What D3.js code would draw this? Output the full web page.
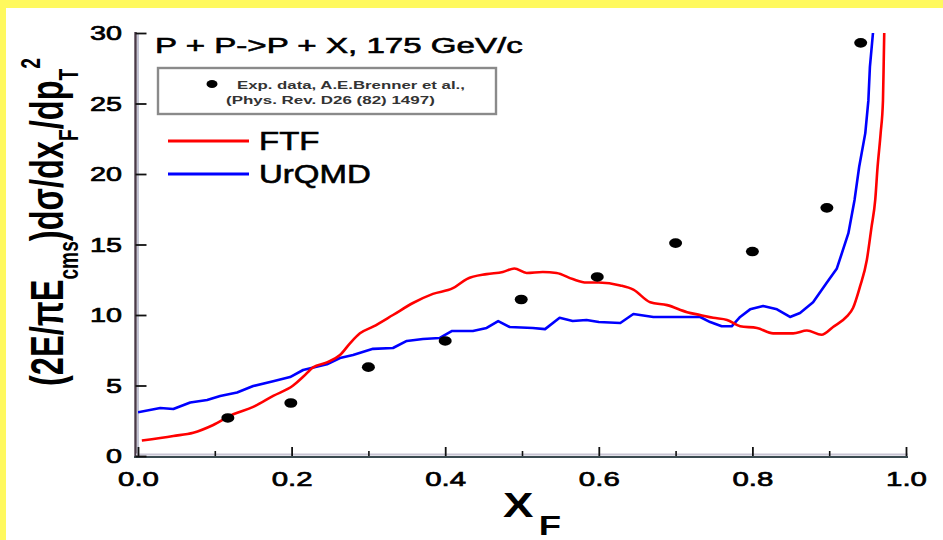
<!DOCTYPE html>
<html>
<head>
<meta charset="utf-8">
<script src="https://cdn.jsdelivr.net/npm/d3@7"></script>
<style>
  html, body { margin: 0; padding: 0; background: #fff; }
  svg { display: block; }
  text { font-family: "Liberation Sans", Arial, sans-serif; }
</style>
</head>
<body>
<svg id="chart" width="943" height="540"></svg>
<script>
// Experimental points (A.E. Brenner et al.)
const expX = [0.117, 0.199, 0.30, 0.40, 0.499, 0.598, 0.70, 0.80, 0.897, 0.941];
const expY = [2.7, 3.76, 6.3, 8.16, 11.1, 12.7, 15.1, 14.5, 17.6, 29.3];

// FTF model curve
const ftfX = [0.005, 0.046, 0.072, 0.098, 0.124, 0.15, 0.176, 0.202, 0.215, 0.228, 0.246, 0.263,
  0.276, 0.289, 0.306, 0.332, 0.358, 0.384, 0.41, 0.428, 0.454, 0.475, 0.49, 0.506, 0.527, 0.545,
  0.566, 0.584, 0.60, 0.628, 0.645, 0.667, 0.689, 0.715, 0.732, 0.749, 0.767, 0.784, 0.806, 0.827,
  0.853, 0.871, 0.89, 0.905, 0.923, 0.931, 0.94, 0.949, 0.955, 0.96, 0.963, 0.967, 0.97, 0.971, 0.972];
const ftfY = [1.1, 1.42, 1.65, 2.2, 2.96, 3.48, 4.26, 5.0, 5.62, 6.29, 6.64, 7.16,
  7.99, 8.7, 9.17, 10.0, 10.85, 11.5, 11.9, 12.55, 12.9, 13.05, 13.3, 12.98, 13.05, 12.98,
  12.55, 12.3, 12.3, 12.1, 11.8, 10.9, 10.7, 10.2, 10.0, 9.8, 9.65, 9.2, 9.08, 8.7,
  8.7, 8.9, 8.6, 9.15, 9.9, 10.5, 12.0, 13.9, 16.2, 18.2, 20.5, 22.9, 25.2, 28.0, 31.0];

// UrQMD model curve
const urqX = [0.0, 0.029, 0.046, 0.068, 0.09, 0.107, 0.129, 0.15, 0.176, 0.198, 0.215, 0.246,
  0.263, 0.28, 0.306, 0.332, 0.35, 0.371, 0.393, 0.409, 0.436, 0.454, 0.469, 0.484, 0.514, 0.53,
  0.549, 0.566, 0.584, 0.60, 0.628, 0.645, 0.671, 0.702, 0.732, 0.745, 0.76, 0.773, 0.784, 0.797,
  0.814, 0.832, 0.849, 0.862, 0.879, 0.897, 0.91, 0.925, 0.933, 0.939, 0.947, 0.951, 0.953, 0.957, 0.959];
const urqY = [3.1, 3.4, 3.33, 3.8, 3.97, 4.26, 4.5, 4.96, 5.3, 5.6, 6.1, 6.5,
  6.95, 7.16, 7.6, 7.66, 8.16, 8.3, 8.37, 8.87, 8.87, 9.08, 9.57, 9.15, 9.08, 9.0,
  9.8, 9.57, 9.65, 9.5, 9.43, 10.07, 9.86, 9.86, 9.86, 9.5, 9.2, 9.2, 9.86, 10.4,
  10.64, 10.4, 9.86, 10.14, 10.9, 12.3, 13.3, 15.8, 18.16, 20.5, 22.9, 25.2, 27.6, 30.0, 32.0];

const xTicks = [0.0, 0.2, 0.4, 0.6, 0.8, 1.0];
const xMinorTicks = [0.1, 0.3, 0.5, 0.7, 0.9];
const yTicks = [0, 5, 10, 15, 20, 25, 30];

const titleText = "P + P->P + X, 175 GeV/c";
const refLine1 = "Exp. data, A.E.Brenner et al.,";
const refLine2 = "(Phys. Rev. D26 (82) 1497)";
const seriesNames = ["FTF", "UrQMD"];

const FONT = '"Liberation Sans", Arial, sans-serif';
const svg = d3.select("#chart");

// Page background with the yellow frame on top and left
svg.append("rect").attr("width", 943).attr("height", 540).attr("fill", "#ffffff");
svg.append("rect").attr("x", 0).attr("y", 0).attr("width", 943).attr("height", 8).attr("fill", "#fff95e");
svg.append("rect").attr("x", 0).attr("y", 0).attr("width", 6).attr("height", 540).attr("fill", "#fff95e");

const x = d3.scaleLinear().domain([0, 1]).range([138, 906]);
const y = d3.scaleLinear().domain([0, 30]).range([456, 33]);

// Regular-weight text gets a thin outline so it reads a little heavier
function heavy(t, w) {
  return t.attr("stroke", "#000").attr("stroke-width", w || 0.5).attr("paint-order", "stroke");
}
// Text placed at an anchor and stretched horizontally
function stretched(px, py, sx, anchor) {
  const g = svg.append("g").attr("transform", `translate(${px},${py}) scale(${sx},1)`);
  return g.append("text").attr("x", 0).attr("y", 0).attr("text-anchor", anchor || "start");
}
// Text fitted to a target width
function fitted(px, py, width, str, size, weight) {
  const g = svg.append("g");
  const t = g.append("text").attr("x", 0).attr("y", 0)
    .attr("font-size", size).attr("font-weight", weight || "normal").attr("fill", "#000").text(str);
  const w = t.node().getComputedTextLength();
  g.attr("transform", `translate(${px},${py}) scale(${width / w},1)`);
  return t;
}

// Axis lines
svg.append("line").attr("x1", 138).attr("x2", 138).attr("y1", 33).attr("y2", 456)
  .attr("stroke", "#c4c4d4").attr("stroke-width", 2);
svg.append("line").attr("x1", 135.5).attr("x2", 135.5).attr("y1", 32).attr("y2", 458)
  .attr("stroke", "#4a3a48").attr("stroke-width", 2.4);
svg.append("line").attr("x1", 136).attr("x2", 908).attr("y1", 454.5).attr("y2", 454.5)
  .attr("stroke", "#c8c4d4").attr("stroke-width", 2);
svg.append("line").attr("x1", 134).attr("x2", 908).attr("y1", 457).attr("y2", 457)
  .attr("stroke", "#3a4a50").attr("stroke-width", 2);

// Y axis ticks (pointing into the plot) and labels
const yAxis = svg.append("g").attr("transform", "translate(135.5,0)")
  .call(d3.axisLeft(y).tickValues(yTicks).tickSizeInner(-11).tickSizeOuter(0).tickFormat(d3.format("d")));
yAxis.select(".domain").remove();
yAxis.selectAll(".tick line").attr("stroke", "#111").attr("stroke-width", 1.8);
heavy(yAxis.selectAll(".tick text")
  .attr("x", null).attr("dy", null)
  .attr("transform", "translate(-13.5,6.5) scale(1.37,1)")
  .attr("font-family", FONT).attr("font-size", 21).attr("fill", "#000").attr("text-anchor", "end"), 0.7);

// X axis ticks and labels
const xAxis = svg.append("g").attr("transform", "translate(0,456)")
  .call(d3.axisBottom(x).tickValues(xTicks).tickSizeInner(-9).tickSizeOuter(0).tickFormat(d3.format(".1f")));
xAxis.select(".domain").remove();
xAxis.selectAll(".tick line").attr("stroke", "#111").attr("stroke-width", 1.8);
heavy(xAxis.selectAll(".tick text")
  .attr("y", null).attr("dy", null)
  .attr("transform", "translate(0,29.5) scale(1.4,1)")
  .attr("font-family", FONT).attr("font-size", 21).attr("fill", "#000").attr("text-anchor", "middle"), 0.7);

const xMinor = svg.append("g").attr("transform", "translate(0,456)")
  .call(d3.axisBottom(x).tickValues(xMinorTicks).tickSizeInner(-5).tickSizeOuter(0).tickFormat(""));
xMinor.select(".domain").remove();
xMinor.selectAll(".tick line").attr("stroke", "#111").attr("stroke-width", 1.6);

// Curves, clipped to the plot frame
svg.append("clipPath").attr("id", "plotClip").append("rect")
  .attr("x", 138).attr("y", 33).attr("width", 768).attr("height", 423);
const plot = svg.append("g").attr("clip-path", "url(#plotClip)");

const ftf = ftfX.map((v, i) => [v, ftfY[i]]);
const urq = urqX.map((v, i) => [v, urqY[i]]);

plot.append("path").datum(urq)
  .attr("d", d3.line().x(d => x(d[0])).y(d => y(d[1])).curve(d3.curveLinear))
  .attr("fill", "none").attr("stroke", "#0000ff").attr("stroke-width", 2.6).attr("stroke-linejoin", "round");
plot.append("path").datum(ftf)
  .attr("d", d3.line().x(d => x(d[0])).y(d => y(d[1])).curve(d3.curveMonotoneX))
  .attr("fill", "none").attr("stroke", "#ff0000").attr("stroke-width", 2.6).attr("stroke-linejoin", "round");

// Experimental points
svg.append("g").selectAll("ellipse").data(expX.map((v, i) => [v, expY[i]])).join("ellipse")
  .attr("cx", d => x(d[0])).attr("cy", d => y(d[1]))
  .attr("rx", 6.5).attr("ry", 4.8).attr("fill", "#000");

// Title
heavy(fitted(155, 53, 368, titleText, 22, "normal"), 0.6);

// Reference box
svg.append("rect").attr("x", 158).attr("y", 68).attr("width", 338).attr("height", 46)
  .attr("fill", "#fff").attr("stroke", "#8a8a8a").attr("stroke-width", 2.4);
svg.append("ellipse").attr("cx", 212).attr("cy", 84).attr("rx", 5.5).attr("ry", 4).attr("fill", "#000");
fitted(237, 89, 228, refLine1, 11, "bold").attr("fill", "#333");
fitted(226, 104, 209, refLine2, 11, "bold").attr("fill", "#333");

// Model legend
const legendColors = ["#ff0000", "#0000ff"];
const legendY = [141, 174];
seriesNames.forEach((name, i) => {
  svg.append("line").attr("x1", 168).attr("x2", 249).attr("y1", legendY[i]).attr("y2", legendY[i])
    .attr("stroke", legendColors[i]).attr("stroke-width", 2.8);
  heavy(stretched(259, legendY[i] + 9, 1.32).attr("font-size", 25).attr("fill", "#000").text(name), 0.6);
});

// X axis title: x_F
{
  const g = svg.append("g");
  const t = g.append("text").attr("x", 0).attr("y", 0).attr("font-weight", "bold").attr("fill", "#000");
  t.append("tspan").attr("font-size", 35).text("X");
  t.append("tspan").attr("font-size", 28).attr("dx", 4).attr("dy", 18).text("F");
  const w = t.node().getComputedTextLength();
  g.attr("transform", `translate(503,517) scale(${58 / (w + 4)},1)`);
}

// Y axis title: (2E/πE_cms) dσ/dx_F/dp_T^2
{
  const g = svg.append("g");
  const t = g.append("text").attr("x", 0).attr("y", 0).attr("font-weight", "bold")
    .attr("font-size", 34).attr("fill", "#000");
  t.append("tspan").text("(2E/\u03C0E");
  t.append("tspan").attr("font-size", 20).attr("dy", 11).text("cms");
  t.append("tspan").attr("dy", -11).text(")d\u03C3/dx");
  t.append("tspan").attr("font-size", 20).attr("dy", 11).text("F");
  t.append("tspan").attr("dy", -11).text("/dp");
  t.append("tspan").attr("font-size", 20).attr("dy", 11).text("T");
  t.append("tspan").attr("font-size", 20).attr("dy", -28).text("2");
  const len = t.node().getComputedTextLength();
  const k = 328 / len;
  g.attr("transform", `translate(63,386) scale(1.35,${k}) rotate(-90)`);
}
</script>
</body>
</html>
